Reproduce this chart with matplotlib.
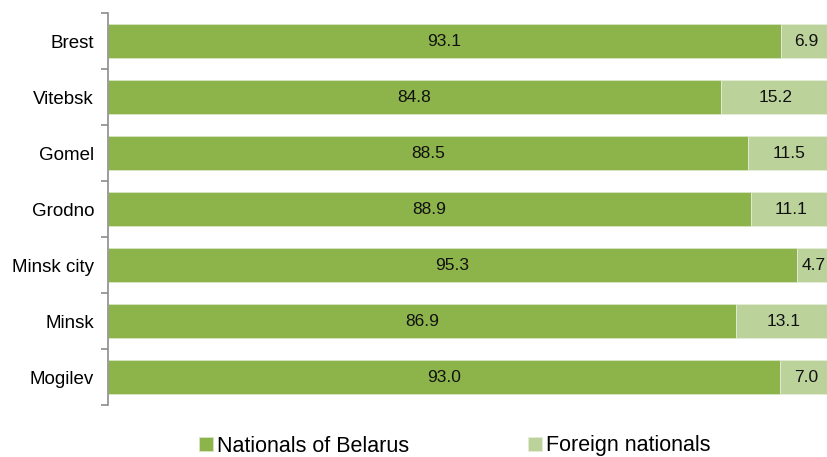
import matplotlib
matplotlib.use("Agg")
import matplotlib.pyplot as plt
import numpy as np

plt.rcParams['font.family'] = ['Liberation Sans', 'DejaVu Sans']

regions = ["Brest", "Vitebsk", "Gomel", "Grodno", "Minsk city", "Minsk", "Mogilev"]
nationals = [93.1, 84.8, 88.5, 88.9, 95.3, 86.9, 93.0]
foreign = [6.9, 15.2, 11.5, 11.1, 4.7, 13.1, 7.0]

DARK_GREEN, LIGHT_GREEN = '#8db34b', '#bcd29b'
SPINE = '#8c8c8c'

fig = plt.figure(figsize=(8.27, 4.57), dpi=100)
# plot area runs slightly past the right edge of the canvas, as in the source
ax = fig.add_axes([108/827, 52/457, (831 - 108)/827, (405 - 13)/457])

y = np.arange(len(regions))
h = 0.59
b1 = ax.barh(y, nationals, height=h, color=DARK_GREEN, edgecolor='#d8e4c4', lw=0.6,
             label="Nationals of Belarus")
b2 = ax.barh(y, foreign, left=nationals, height=h, color=LIGHT_GREEN, edgecolor='#e4ecd8', lw=0.6,
             label="Foreign nationals")
ax.bar_label(b1, labels=[f"{v:.1f}" for v in nationals], label_type='center', fontsize=12.5, color='#111111')
ax.bar_label(b2, labels=[f"{v:.1f}" for v in foreign], label_type='center', fontsize=12.5, color='#111111')

ax.set_xlim(0, 100)
ax.set_ylim(len(regions) - 0.5, -0.5)
ax.set_yticks(y)
ax.set_yticklabels(regions, fontsize=13.5)
ax.set_yticks(np.arange(-0.5, len(regions)), minor=True)
ax.tick_params(axis='y', which='major', length=0, pad=10)
ax.tick_params(axis='y', which='minor', length=5, color=SPINE, width=1.2, direction='out')
ax.set_xticks([])
for s in ['top', 'right', 'bottom']:
    ax.spines[s].set_visible(False)
ax.spines['left'].set_color(SPINE)
ax.spines['left'].set_linewidth(1.2)

fig.legend(handles=[b1, b2], loc='center', bbox_to_anchor=(455/827, 1 - 446/457), ncol=2,
           frameon=False, fontsize=15.5, handlelength=0.65, handleheight=0.65, handletextpad=0.2,
           columnspacing=5.5, borderaxespad=0)

fig.savefig("out.png", dpi=100, facecolor='white')
